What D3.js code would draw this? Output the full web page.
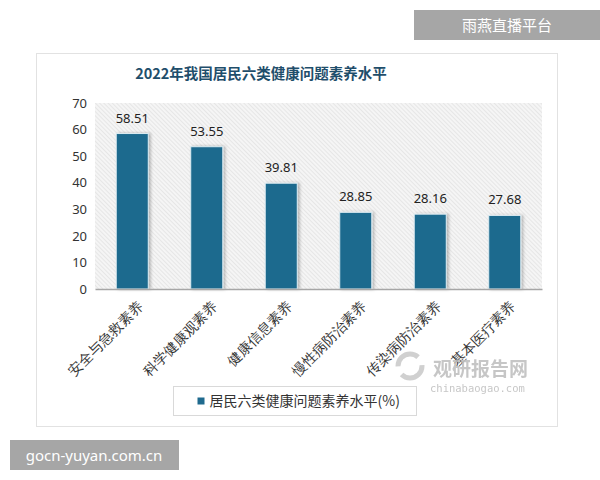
<!DOCTYPE html>
<html>
<head>
<meta charset="utf-8">
<script src="https://cdn.jsdelivr.net/npm/d3@7"></script>
<style>
  body { margin: 0; background: #fff; }
  svg { display: block; font-family: "Noto Sans CJK SC", "Noto Sans", sans-serif; }
</style>
</head>
<body>
<svg id="chart" width="600" height="480"></svg>
<script>
// data
const categories = ['安全与急救素养', '科学健康观素养', '健康信息素养', '慢性病防治素养', '传染病防治素养', '基本医疗素养'];
const values = [58.51, 53.55, 39.81, 28.85, 28.16, 27.68];
const yTicks = [0, 10, 20, 30, 40, 50, 60, 70];
const seriesName = '居民六类健康问题素养水平(%)';
const title = '2022年我国居民六类健康问题素养水平';

const svg = d3.select('#chart');
const barColor = '#1f6a8e';

// hatch pattern for plot background
const defs = svg.append('defs');
const pat = defs.append('pattern')
  .attr('id', 'hatch')
  .attr('patternUnits', 'userSpaceOnUse')
  .attr('width', 3).attr('height', 3)
  .attr('patternTransform', 'rotate(-45)');
pat.append('rect').attr('width', 3).attr('height', 3).attr('fill', '#f5f5f5');
pat.append('line').attr('x1', 0).attr('y1', 0).attr('x2', 0).attr('y2', 3)
  .attr('stroke', '#d8d8d8').attr('stroke-width', 1);

const shadow = defs.append('filter').attr('id', 'shadow')
  .attr('x', '-30%').attr('y', '-10%').attr('width', '160%').attr('height', '120%');
shadow.append('feDropShadow').attr('dx', 2).attr('dy', 0).attr('stdDeviation', 1.5)
  .attr('flood-color', '#000').attr('flood-opacity', 0.25);

// card
svg.append('rect').attr('x', 36.5).attr('y', 53.5).attr('width', 521).attr('height', 373)
  .attr('fill', '#fff').attr('stroke', '#e2e2e2');

svg.append('text')
  .attr('x', 261).attr('y', 79)
  .attr('text-anchor', 'middle')
  .attr('font-size', 14.5).attr('font-weight', 'bold')
  .attr('fill', '#1f4e6b')
  .text(title);

const margin = { left: 95, right: 542, top: 103, bottom: 289 };

const x = d3.scaleBand()
  .domain(categories)
  .range([margin.left, margin.right])
  .paddingInner(0.57)
  .paddingOuter(0.285);

const y = d3.scaleLinear().domain([0, 70]).range([margin.bottom, margin.top]);

svg.append('rect')
  .attr('x', margin.left).attr('y', margin.top)
  .attr('width', margin.right - margin.left).attr('height', margin.bottom - margin.top)
  .attr('fill', 'url(#hatch)');

// y axis labels only
const yAxis = svg.append('g')
  .attr('transform', `translate(${margin.left - 8},0)`)
  .call(d3.axisLeft(y).tickValues(yTicks).tickSize(0).tickPadding(0));
yAxis.select('.domain').remove();
yAxis.selectAll('text').attr('font-size', 13).attr('fill', '#333')
  .attr('font-family', '"Noto Sans", sans-serif');

// bars
svg.append('g').selectAll('rect')
  .data(values)
  .join('rect')
  .attr('x', (d, i) => x(categories[i]))
  .attr('y', d => y(d))
  .attr('width', x.bandwidth())
  .attr('height', d => y(0) - y(d))
  .attr('fill', barColor)
  .attr('stroke', '#dcecf2')
  .attr('stroke-width', 1)
  .attr('filter', 'url(#shadow)');

// x axis line
const xAxis = svg.append('g')
  .attr('transform', `translate(0,${margin.bottom})`)
  .call(d3.axisBottom(x).tickSize(0).tickPadding(0));
xAxis.select('.domain').attr('stroke', '#a6a6a6').attr('stroke-width', 1.5);
xAxis.selectAll('text')
  .attr('font-size', 14)
  .attr('fill', '#333')
  .attr('text-anchor', 'end')
  .attr('y', 0)
  .attr('dy', '0.35em')
  .attr('transform', 'translate(8,15) rotate(-45)');

// value labels
svg.append('g').selectAll('text')
  .data(values)
  .join('text')
  .attr('x', (d, i) => x(categories[i]) + x.bandwidth() / 2)
  .attr('y', d => y(d) - 11)
  .attr('text-anchor', 'middle')
  .attr('font-size', 13)
  .attr('font-family', '"Noto Sans", sans-serif')
  .attr('fill', '#222')
  .text(d => d.toFixed(2));

// legend
const legend = svg.append('g').attr('transform', 'translate(173.5,386.5)');
legend.append('rect').attr('width', 243).attr('height', 29)
  .attr('fill', '#fff').attr('stroke', '#d9d9d9');
legend.append('rect').attr('x', 24).attr('y', 11).attr('width', 7).attr('height', 7).attr('fill', barColor);
legend.append('text').attr('x', 36).attr('y', 19.5)
  .attr('font-size', 14).attr('fill', '#333').text(seriesName);

// chinabaogao watermark
const wm = svg.append('g').attr('opacity', 0.85);
wm.append('circle').attr('cx', 410).attr('cy', 366).attr('r', 12)
  .attr('fill', 'none').attr('stroke', '#c8c8c8').attr('stroke-width', 5)
  .attr('stroke-dasharray', '28 9');
wm.append('text').attr('x', 433).attr('y', 376)
  .attr('font-size', 19).attr('font-weight', 'bold').attr('fill', '#bdbdbd')
  .text('观研报告网');
wm.append('text').attr('x', 430).attr('y', 392)
  .attr('font-size', 10.5).attr('fill', '#bdbdbd')
  .attr('font-family', '"DejaVu Sans Mono", monospace')
  .text('chinabaogao.com');

// corner labels
svg.append('rect').attr('x', 414).attr('y', 10).attr('width', 186).attr('height', 30).attr('fill', '#a6a6a6');
svg.append('text').attr('x', 507).attr('y', 31).attr('text-anchor', 'middle')
  .attr('font-size', 15).attr('fill', '#fff').text('雨燕直播平台');

svg.append('rect').attr('x', 10).attr('y', 440).attr('width', 169).attr('height', 30).attr('fill', '#a6a6a6');
svg.append('text').attr('x', 94).attr('y', 461).attr('text-anchor', 'middle')
  .attr('font-size', 15).attr('fill', '#fff')
  .attr('font-family', '"Noto Sans", sans-serif')
  .text('gocn-yuyan.com.cn');
</script>
</body>
</html>
